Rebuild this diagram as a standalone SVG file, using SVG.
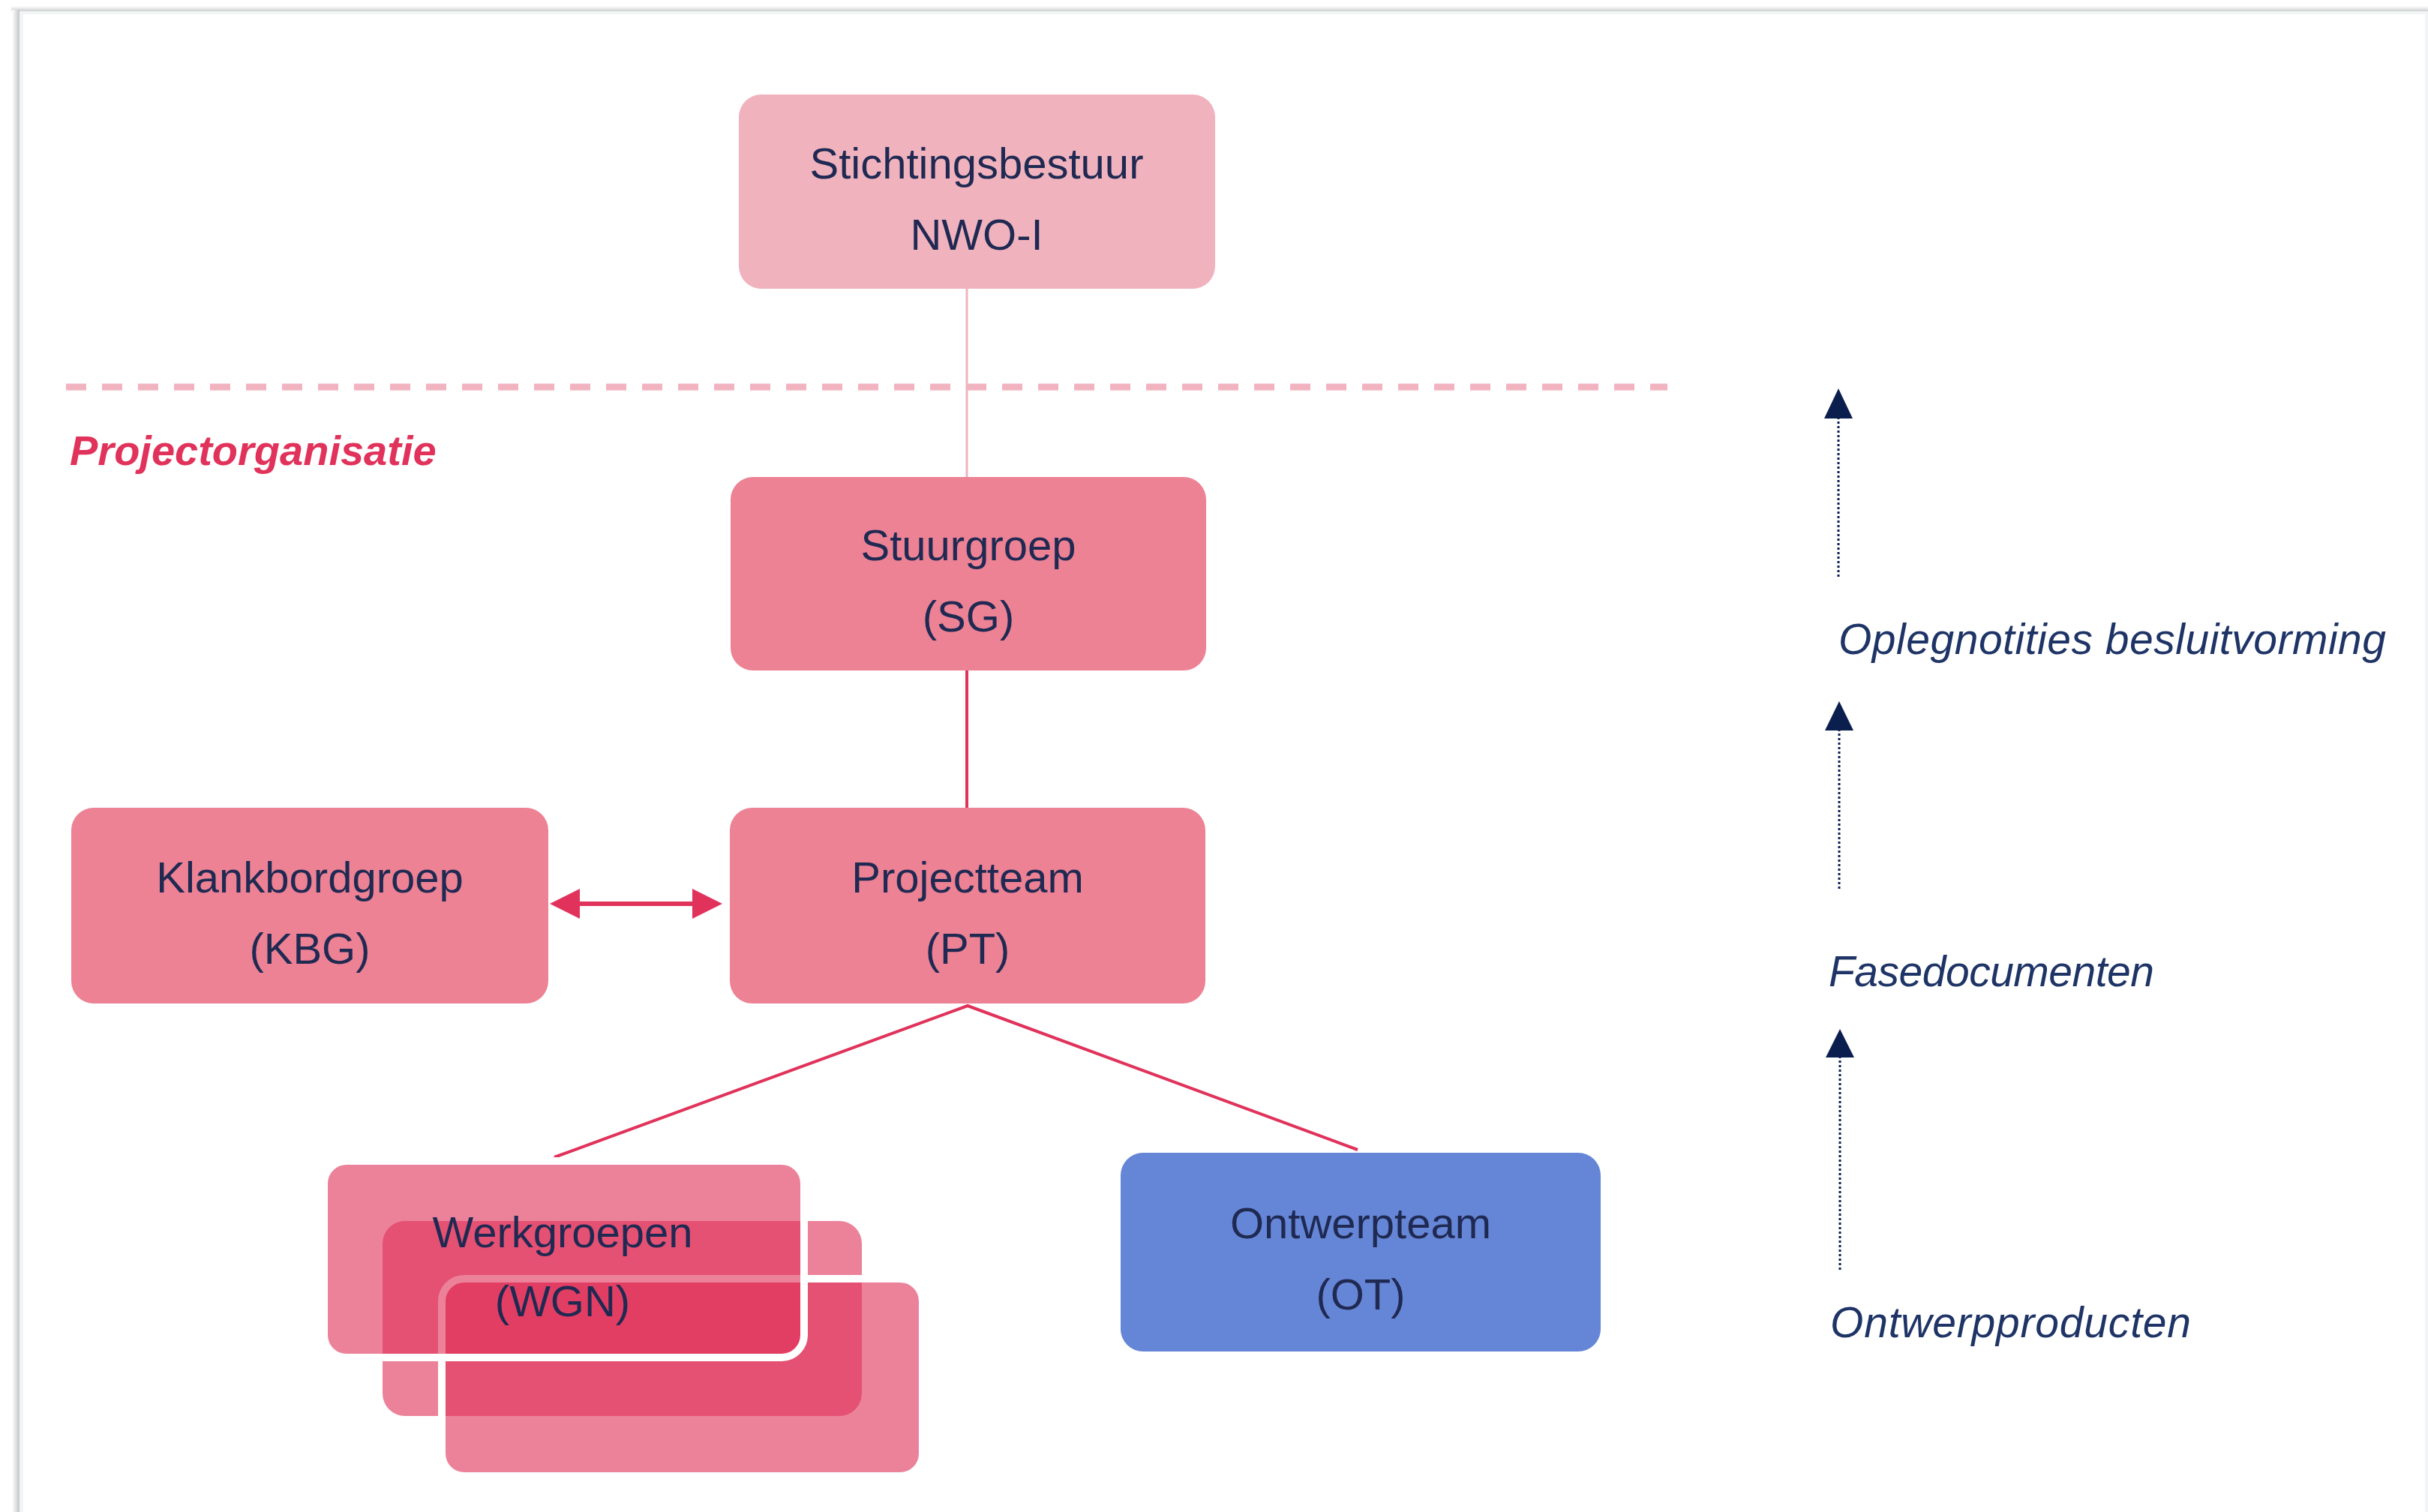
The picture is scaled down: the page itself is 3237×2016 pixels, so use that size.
<svg xmlns="http://www.w3.org/2000/svg" width="3237" height="2016" viewBox="0 0 3237 2016">
  <defs>
    <style>
      .node { fill: #EC8294; }
      .light { fill: #F0B3BE; }
      .blue { fill: #6586D6; }
      .wg { fill: #E0325A; fill-opacity: 0.61; }
      .wgs { fill: #E0325A; fill-opacity: 0.61; stroke: #FFFFFF; stroke-width: 10; }
      .lbl { font-family: "Liberation Sans", Arial, sans-serif; font-size: 58px; fill: #1F2952; text-anchor: middle; }
      .side { font-family: "Liberation Sans", Arial, sans-serif; font-size: 57px; font-style: italic; fill: #1F3466; }
      .red { stroke: #E0325A; stroke-width: 4; fill: none; }
      .dots { stroke: #0B1F4F; stroke-width: 3; stroke-dasharray: 3 3; fill: none; }
    </style>
    <linearGradient id="shadowL" x1="0" y1="0" x2="1" y2="0">
      <stop offset="0" stop-color="#FFFFFF"/>
      <stop offset="1" stop-color="#C4C6C6"/>
    </linearGradient>
    <linearGradient id="shadowT" x1="0" y1="0" x2="0" y2="1">
      <stop offset="0" stop-color="#FFFFFF"/>
      <stop offset="1" stop-color="#CDCFCF"/>
    </linearGradient>
  </defs>

  <rect x="0" y="0" width="3237" height="2016" fill="#FFFFFF"/>
  <!-- page frame -->
  <g id="frame">
    <rect x="15" y="8" width="3222" height="7" fill="url(#shadowT)"/>
    <rect x="16" y="13" width="10" height="2003" fill="url(#shadowL)"/>
    <rect x="26" y="15" width="3211" height="2001" fill="#F2F5F5"/>
    <rect x="31" y="19" width="3202" height="1997" fill="#FFFFFF"/>
  </g>

  <!-- separator -->
  <g id="separator">
    <line x1="88" y1="516" x2="2223" y2="516" stroke="#F2B3C0" stroke-width="9" stroke-dasharray="27 21"/>
    <text x="93" y="620" font-family="'Liberation Sans', Arial, sans-serif" font-size="56" font-weight="bold" font-style="italic" fill="#E0325A">Projectorganisatie</text>
  </g>

  <!-- connectors -->
  <g id="connectors">
    <line x1="1289" y1="385" x2="1289" y2="636" stroke="#F0B3BE" stroke-width="3"/>
    <line x1="1289" y1="894" x2="1289" y2="1077" class="red"/>
    <polyline points="739,1543 1290,1341 1810,1533" class="red"/>
    <line x1="765" y1="1205" x2="931" y2="1205" stroke="#E0325A" stroke-width="6"/>
    <polygon points="733,1205 773,1185 773,1225" fill="#E0325A"/>
    <polygon points="963,1205 923,1185 923,1225" fill="#E0325A"/>
  </g>

  <!-- nodes -->
  <g id="stichtingsbestuur">
    <rect x="985" y="126" width="635" height="259" rx="30" class="light"/>
    <text x="1302" y="238" class="lbl">Stichtingsbestuur</text>
    <text x="1302" y="333" class="lbl">NWO-I</text>
  </g>
  <g id="stuurgroep">
    <rect x="974" y="636" width="634" height="258" rx="30" class="node"/>
    <text x="1291" y="747" class="lbl">Stuurgroep</text>
    <text x="1291" y="842" class="lbl">(SG)</text>
  </g>
  <g id="klankbordgroep">
    <rect x="95" y="1077" width="636" height="261" rx="30" class="node"/>
    <text x="413" y="1190" class="lbl">Klankbordgroep</text>
    <text x="413" y="1285" class="lbl">(KBG)</text>
  </g>
  <g id="projectteam">
    <rect x="973" y="1077" width="634" height="261" rx="30" class="node"/>
    <text x="1290" y="1190" class="lbl">Projectteam</text>
    <text x="1290" y="1285" class="lbl">(PT)</text>
  </g>
  <g id="werkgroepen">
    <rect x="510" y="1628" width="639" height="260" rx="30" class="wg"/>
    <rect x="589" y="1705" width="641" height="263" rx="30" class="wgs"/>
    <rect x="432" y="1548" width="640" height="262" rx="30" class="wgs"/>
    <text x="750" y="1663" class="lbl">Werkgroepen</text>
    <text x="750" y="1755" class="lbl">(WGN)</text>
  </g>
  <g id="ontwerpteam">
    <rect x="1494" y="1537" width="640" height="265" rx="30" class="blue"/>
    <text x="1814" y="1651" class="lbl">Ontwerpteam</text>
    <text x="1814" y="1746" class="lbl">(OT)</text>
  </g>

  <!-- side flow -->
  <g id="side-arrows">
    <line x1="2451" y1="556" x2="2451" y2="770" class="dots"/>
    <polygon points="2451,518 2432,558 2470,558" fill="#0B1F4F"/>
    <line x1="2452" y1="972" x2="2452" y2="1187" class="dots"/>
    <polygon points="2452,935 2433,974 2471,974" fill="#0B1F4F"/>
    <line x1="2453" y1="1408" x2="2453" y2="1693" class="dots"/>
    <polygon points="2453,1372 2434,1410 2472,1410" fill="#0B1F4F"/>
  </g>
  <g id="label-oplegnotities">
    <text x="2451" y="872" class="side" textLength="730" lengthAdjust="spacing">Oplegnotities besluitvorming</text>
  </g>
  <g id="label-fasedocumenten">
    <text x="2438" y="1315" class="side" textLength="434" lengthAdjust="spacing">Fasedocumenten</text>
  </g>
  <g id="label-ontwerpproducten">
    <text x="2440" y="1783" class="side" textLength="481" lengthAdjust="spacing">Ontwerpproducten</text>
  </g>
</svg>
